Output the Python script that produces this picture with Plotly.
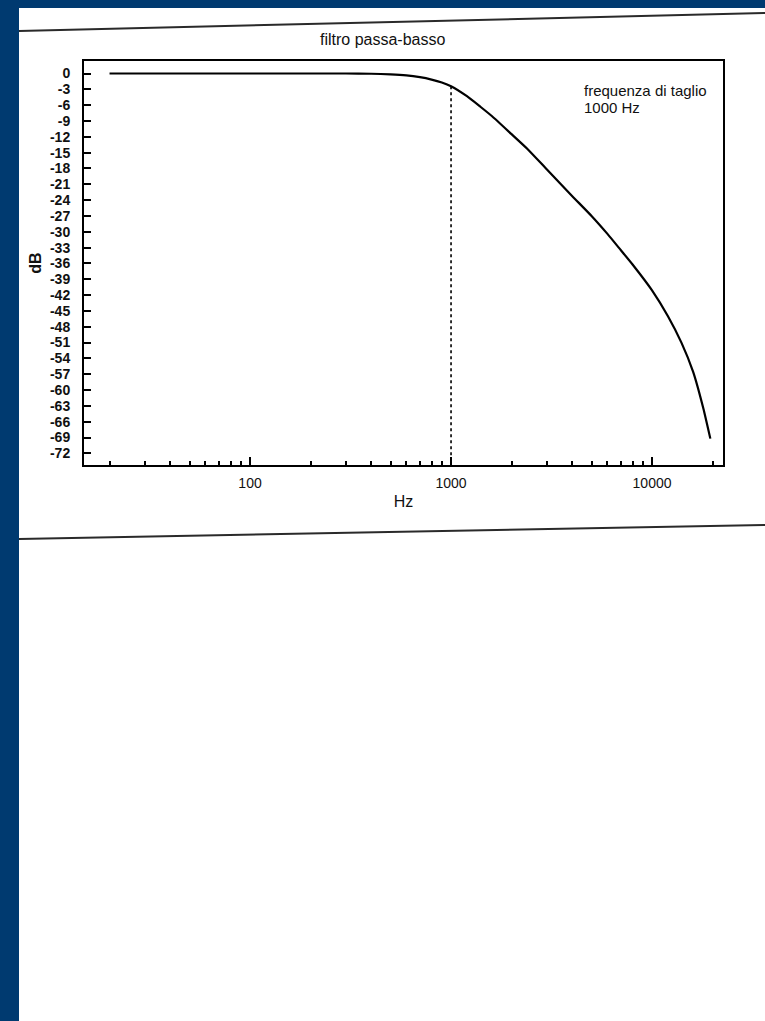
import plotly.graph_objects as go

# ---- data ----
freq_hz = [20, 100, 200, 300, 400, 500, 600, 700, 800, 900, 1000, 1200, 1400,
           1600, 2000, 2400, 3000, 4000, 5000, 6000, 7000, 8000, 10000, 12000,
           14000, 16000, 18000, 19500]
gain_db = [0, 0, 0, 0, -0.05, -0.15, -0.35, -0.7, -1.15, -1.7, -2.4, -4.3, -6.3,
           -8.1, -11.5, -14.3, -18.2, -23.2, -27.0, -30.4, -33.5, -36.2, -41.1,
           -46.0, -51.0, -56.5, -63.5, -69.2]
cutoff_hz = 1000
cutoff_db = -2.4

y_ticks = list(range(-72, 1, 3))
y_tick_text = ["-72", "-69", "-66", "-63", "-60", "-57", "-54", "-51", "-48",
               "-45", "-42", "-39", "-36", "-33", "-30", "-27", "-24", "-21",
               "-18", "-15", "-12", "-9", "-6", "-3", "0"]
x_major = [100, 1000, 10000]
x_major_text = ["100", "1000", "10000"]
x_minor = [20, 30, 40, 50, 60, 70, 80, 90,
           200, 300, 400, 500, 600, 700, 800, 900,
           2000, 3000, 4000, 5000, 6000, 7000, 8000, 9000, 20000]

Y_MIN, Y_MAX = -74.2, 2.37
X_MIN, X_MAX = 1.174, 4.353  # log10 range

FONT = "Liberation Sans, Arial, sans-serif"
BLUE = "#003a70"

# plot area in pixels
L, R, T, B = 84, 723, 61, 465
W, H = 765, 1021


def xp(px):
    return (px - L) / (R - L)


def yp(py):
    return (B - py) / (B - T)


fig = go.Figure()

fig.add_trace(go.Scatter(
    x=[cutoff_hz, cutoff_hz], y=[cutoff_db, Y_MIN],
    mode="lines", line=dict(color="black", width=1.6, dash="dot"),
    hoverinfo="skip", showlegend=False))

fig.add_trace(go.Scatter(
    x=freq_hz, y=gain_db, mode="lines",
    line=dict(color="black", width=2.2, shape="spline", smoothing=0.5),
    showlegend=False))

shapes = [
    # blue page background strips
    dict(type="rect", xref="paper", yref="paper", x0=xp(-5), x1=xp(19),
         y0=yp(1030), y1=yp(-5), fillcolor=BLUE, line=dict(width=0), layer="above"),
    dict(type="rect", xref="paper", yref="paper", x0=xp(-5), x1=xp(770),
         y0=yp(8), y1=yp(-5), fillcolor=BLUE, line=dict(width=0), layer="above"),
    # scanned page rule lines
    dict(type="line", xref="paper", yref="paper", x0=xp(19), y0=yp(31),
         x1=xp(765), y1=yp(13), line=dict(color="#2a2a2a", width=2)),
    dict(type="line", xref="paper", yref="paper", x0=xp(19), y0=yp(539),
         x1=xp(765), y1=yp(525), line=dict(color="#2a2a2a", width=2)),
]

annotations = [
    dict(text="filtro passa-basso", xref="paper", yref="paper",
         x=xp(382), y=yp(40), xanchor="center", yanchor="middle",
         showarrow=False, font=dict(family=FONT, size=16, color="#111")),
    dict(text="frequenza di taglio", xref="paper", yref="paper",
         x=xp(582), y=yp(91), xanchor="left", yanchor="middle", align="left",
         showarrow=False, font=dict(family=FONT, size=15, color="#111")),
    dict(text="1000 Hz", xref="paper", yref="paper",
         x=xp(582), y=yp(107), xanchor="left", yanchor="middle", align="left",
         showarrow=False, font=dict(family=FONT, size=15, color="#111")),
]

fig.update_layout(
    width=W, height=H,
    margin=dict(l=L, r=W - R, t=T, b=H - B),
    paper_bgcolor="white", plot_bgcolor="white",
    shapes=shapes, annotations=annotations,
    showlegend=False,
    xaxis=dict(
        type="log", range=[X_MIN, X_MAX],
        tickvals=x_major, ticktext=x_major_text,
        ticks="inside", ticklen=8, tickwidth=2, tickcolor="black",
        minor=dict(tickvals=x_minor, ticks="inside", ticklen=4, tickwidth=1.5,
                   tickcolor="black", showgrid=False),
        showline=True, linecolor="black", linewidth=2, mirror=True,
        showgrid=False, zeroline=False,
        tickfont=dict(family=FONT, size=14, color="#111"),
        ticklabelstandoff=4,
        title=dict(text="Hz", font=dict(family=FONT, size=16, color="#111"),
                   standoff=6),
    ),
    yaxis=dict(
        range=[Y_MIN, Y_MAX], tickvals=y_ticks, ticktext=y_tick_text,
        ticks="inside", ticklen=7, tickwidth=2, tickcolor="black",
        showline=True, linecolor="black", linewidth=2, mirror=True,
        showgrid=False, zeroline=False,
        tickfont=dict(family=FONT, size=14, color="#111", weight="bold"),
        ticklabelstandoff=9,
        title=dict(text="<b>dB</b>", font=dict(family=FONT, size=16, color="#111"),
                   standoff=4),
    ),
)

fig.write_html(
    "out.html",
    config={"displayModeBar": False},
    post_script="document.body.style.margin='0';document.body.style.padding='0';"
                "document.body.style.background='white';",
)
